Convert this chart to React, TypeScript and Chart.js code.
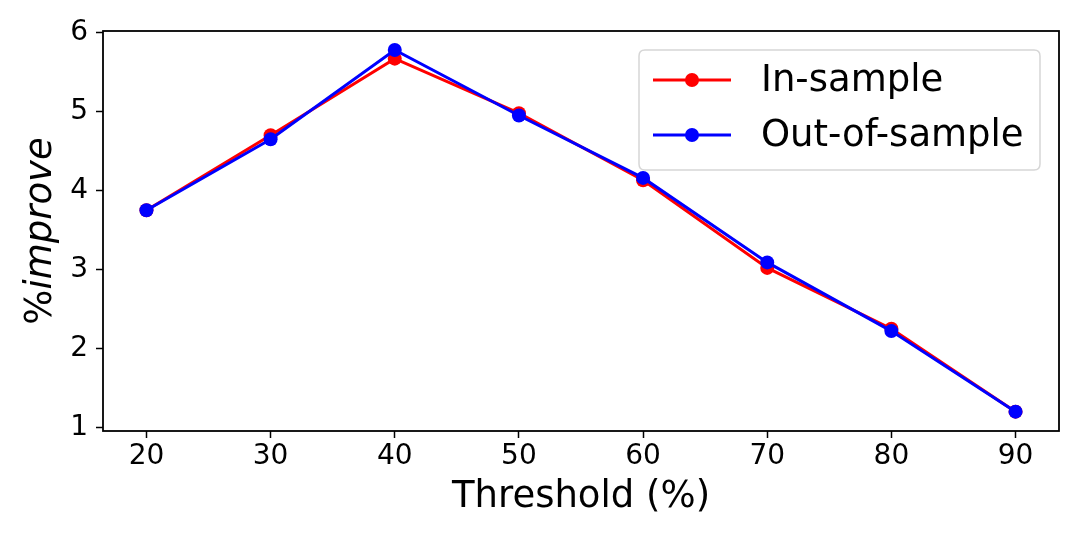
import React, { useEffect, useRef } from "react";
import { Chart, registerables } from "chart.js";

Chart.register(...registerables);

const thresholds = [20, 30, 40, 50, 60, 70, 80, 90];
const inSample = [3.75, 4.7, 5.67, 4.98, 4.13, 3.02, 2.25, 1.2];
const outOfSample = [3.75, 4.65, 5.78, 4.95, 4.16, 3.09, 2.22, 1.2];
const xTicks = [20, 30, 40, 50, 60, 70, 80, 90];
const yTicks = [1, 2, 3, 4, 5, 6];
const seriesLabels = ["In-sample", "Out-of-sample"];
const seriesColors = ["#ff0000", "#0000ff"];
const xTitle = "Threshold (%)";
const yTitlePrefix = "%";
const yTitleItalic = "improve";

const FONT = "'DejaVu Sans', sans-serif";

const framePlugin = {
  id: "frame",
  afterDraw(chart: any) {
    const { ctx, chartArea: a } = chart;
    ctx.save();
    ctx.strokeStyle = "#000";
    ctx.lineWidth = 1.8;
    ctx.strokeRect(a.left, a.top, a.right - a.left, a.bottom - a.top);

    // y title: upright "%" + italic "improve"
    ctx.translate(41, (a.top + a.bottom) / 2);
    ctx.rotate(-Math.PI / 2);
    ctx.fillStyle = "#000";
    ctx.textBaseline = "middle";
    ctx.textAlign = "left";
    ctx.font = `37px ${FONT}`;
    const w1 = ctx.measureText(yTitlePrefix).width;
    ctx.font = `italic 37px ${FONT}`;
    const w2 = ctx.measureText(yTitleItalic).width;
    const start = -(w1 + w2) / 2;
    ctx.font = `37px ${FONT}`;
    ctx.fillText(yTitlePrefix, start, 0);
    ctx.font = `italic 37px ${FONT}`;
    ctx.fillText(yTitleItalic, start + w1, 0);
    ctx.restore();

    // legend
    ctx.save();
    const bx = 639, by = 50, bw = 401, bh = 120, r = 6;
    ctx.beginPath();
    ctx.moveTo(bx + r, by);
    ctx.lineTo(bx + bw - r, by);
    ctx.quadraticCurveTo(bx + bw, by, bx + bw, by + r);
    ctx.lineTo(bx + bw, by + bh - r);
    ctx.quadraticCurveTo(bx + bw, by + bh, bx + bw - r, by + bh);
    ctx.lineTo(bx + r, by + bh);
    ctx.quadraticCurveTo(bx, by + bh, bx, by + bh - r);
    ctx.lineTo(bx, by + r);
    ctx.quadraticCurveTo(bx, by, bx + r, by);
    ctx.closePath();
    ctx.fillStyle = "rgba(255,255,255,0.8)";
    ctx.fill();
    ctx.strokeStyle = "#d6d6d6";
    ctx.lineWidth = 1.5;
    ctx.stroke();
    const rows = [80, 135];
    chart.data.datasets.forEach((ds: any, i: number) => {
      const y = rows[i];
      ctx.strokeStyle = ds.borderColor;
      ctx.lineWidth = 3;
      ctx.beginPath();
      ctx.moveTo(653, y);
      ctx.lineTo(731, y);
      ctx.stroke();
      ctx.fillStyle = ds.borderColor;
      ctx.beginPath();
      ctx.arc(692, y, 7, 0, Math.PI * 2);
      ctx.fill();
      ctx.fillStyle = "#000";
      ctx.font = `37px ${FONT}`;
      ctx.textAlign = "left";
      ctx.textBaseline = "middle";
      ctx.fillText(ds.label, 761, y + 1);
    });
    ctx.restore();
  },
};

export default function App() {
  const ref = useRef<HTMLCanvasElement>(null);
  useEffect(() => {
    document.body.style.margin = "0";
    const canvas = ref.current;
    if (!canvas) return;
    const mk = (vals: number[]) => thresholds.map((x, i) => ({ x, y: vals[i] }));
    const chart = new Chart(canvas, {
      type: "line",
      data: {
        datasets: [
          {
            label: seriesLabels[0],
            data: mk(inSample),
            borderColor: seriesColors[0],
            backgroundColor: seriesColors[0],
            borderWidth: 3,
            pointRadius: 7,
            pointBorderWidth: 0,
            pointHoverRadius: 7,
            tension: 0,
            order: 1,
          },
          {
            label: seriesLabels[1],
            data: mk(outOfSample),
            borderColor: seriesColors[1],
            backgroundColor: seriesColors[1],
            borderWidth: 3,
            pointRadius: 7,
            pointBorderWidth: 0,
            pointHoverRadius: 7,
            tension: 0,
            order: 0,
          },
        ],
      },
      options: {
        animation: false,
        responsive: false,
        devicePixelRatio: 1,
        layout: { padding: { top: 31, right: 21, left: 0, bottom: 0 } },
        plugins: { legend: { display: false }, tooltip: { enabled: false } },
        scales: {
          x: {
            type: "linear",
            min: 16.5,
            max: 93.5,
            afterBuildTicks: (s: any) => {
              s.ticks = xTicks.map((v) => ({ value: v }));
            },
            afterFit: (s: any) => {
              s.height = 109;
            },
            border: { display: false },
            grid: {
              drawOnChartArea: false,
              drawTicks: true,
              tickLength: 7,
              tickColor: "#000",
              tickWidth: 1.5,
            },
            ticks: {
              color: "#000",
              font: { family: FONT, size: 28 },
              padding: 2,
              maxRotation: 0,
              autoSkip: false,
            },
            title: {
              display: true,
              text: xTitle,
              color: "#000",
              font: { family: FONT, size: 37 },
              padding: { top: 0, bottom: 20 },
            },
          },
          y: {
            type: "linear",
            min: 0.955,
            max: 6.02,
            afterBuildTicks: (s: any) => {
              s.ticks = yTicks.map((v) => ({ value: v }));
            },
            afterFit: (s: any) => {
              s.width = 103;
            },
            border: { display: false },
            grid: {
              drawOnChartArea: false,
              drawTicks: true,
              tickLength: 7,
              tickColor: "#000",
              tickWidth: 1.5,
            },
            ticks: {
              color: "#000",
              font: { family: FONT, size: 28 },
              padding: 8,
              autoSkip: false,
            },
          },
        },
      },
      plugins: [framePlugin],
    });
    return () => chart.destroy();
  }, []);
  return (
    <div style={{ width: 1080, height: 540 }}>
      <canvas ref={ref} width={1080} height={540} />
    </div>
  );
}
